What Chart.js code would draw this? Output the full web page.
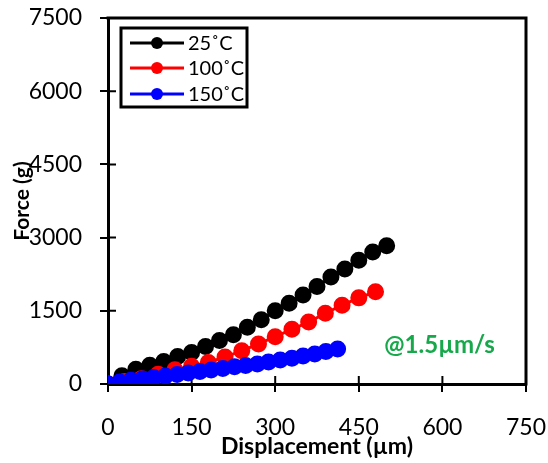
<!DOCTYPE html>
<html>
<head>
<meta charset="utf-8">
<script src="https://cdn.jsdelivr.net/npm/chart.js@4.4.0/dist/chart.umd.min.js"></script>
<style>
body { margin: 0; background: #fff; }
#wrap { width: 548px; height: 463px; }
</style>
</head>
<body>
<div id="wrap"><canvas id="chart" width="548" height="463"></canvas></div>
<script>
// axis ticks
const xTicks = [0, 150, 300, 450, 600, 750];
const yTicks = [0, 1500, 3000, 4500, 6000, 7500];

// 25 C
const x25 = [0, 25, 50, 75, 100, 125, 150, 175, 200, 225, 250, 275, 300, 325, 350, 375, 400, 425, 450, 475, 500];
const y25 = [0, 170, 300, 384, 459, 562, 644, 767, 890, 1007, 1164, 1315, 1500, 1657, 1822, 2000, 2192, 2357, 2534, 2706, 2835];
// 100 C
const x100 = [0, 30, 60, 90, 120, 150, 180, 210, 240, 270, 300, 330, 360, 390, 420, 450, 480];
const y100 = [0, 50, 110, 200, 290, 365, 440, 555, 680, 820, 970, 1120, 1270, 1450, 1615, 1765, 1890];
// 150 C
const x150 = [0, 21, 41, 62, 82, 103, 124, 144, 165, 185, 206, 227, 247, 268, 288, 309, 330, 350, 371, 391, 412];
const y150 = [0, 40, 75, 105, 135, 165, 195, 225, 255, 285, 320, 355, 380, 411, 450, 490, 527, 575, 616, 664, 719];

const seriesNames = ['25˚C', '100˚C', '150˚C'];
const seriesColors = ['#000000', '#ff0000', '#0000ff'];
const noteText = '@1.5µm/s';

Chart.defaults.font.family = 'Lato';
Chart.defaults.color = '#000';

function pts(xs, ys) {
    return xs.map((v, i) => ({x: v, y: ys[i]}));
}

const extras = {
    id: 'extras',
    beforeDatasetsDraw(chart) {
        const {ctx, chartArea: a, scales: {x, y}} = chart;
        ctx.save();
        ctx.strokeStyle = '#000';
        ctx.lineWidth = 3;
        ctx.beginPath();
        ctx.moveTo(a.left - 1.5, a.top);
        ctx.lineTo(a.right, a.top);
        ctx.lineTo(a.right, a.bottom + 1.5);
        ctx.stroke();
        // inner half of the crossing ticks
        ctx.lineWidth = 2;
        ctx.beginPath();
        xTicks.forEach(v => {
            const px = x.getPixelForValue(v);
            ctx.moveTo(px, a.bottom);
            ctx.lineTo(px, a.bottom - 8);
        });
        yTicks.forEach(v => {
            const py = y.getPixelForValue(v);
            ctx.moveTo(a.left, py);
            ctx.lineTo(a.left + 8, py);
        });
        ctx.stroke();
        ctx.restore();
    },
    afterDraw(chart) {
        const {ctx, scales: {x, y}} = chart;
        ctx.save();
        // legend box
        ctx.fillStyle = '#fff';
        ctx.fillRect(121, 28, 126, 79);
        ctx.strokeStyle = '#000';
        ctx.lineWidth = 3;
        ctx.strokeRect(121, 28, 126, 79);
        const rows = [43, 68, 94];
        seriesNames.forEach((name, i) => {
            ctx.strokeStyle = seriesColors[i];
            ctx.fillStyle = seriesColors[i];
            ctx.lineWidth = 3;
            ctx.beginPath();
            ctx.moveTo(130, rows[i]);
            ctx.lineTo(184, rows[i]);
            ctx.stroke();
            ctx.beginPath();
            ctx.arc(157, rows[i], 6, 0, Math.PI * 2);
            ctx.fill();
            ctx.fillStyle = '#000';
            ctx.font = '20px Lato';
            ctx.textAlign = 'left';
            ctx.textBaseline = 'middle';
            ctx.fillText(name, 188, rows[i] + 1);
        });
        // rate note
        ctx.fillStyle = '#16a84a';
        ctx.font = 'bold 24px Lato';
        ctx.textAlign = 'center';
        ctx.textBaseline = 'middle';
        ctx.fillText(noteText, x.getPixelForValue(595), y.getPixelForValue(800));
        ctx.restore();
    }
};

function ds(xs, ys, i, order) {
    return {
        label: seriesNames[i],
        data: pts(xs, ys),
        borderColor: seriesColors[i],
        backgroundColor: seriesColors[i],
        borderWidth: 3,
        pointRadius: 7,
        pointHoverRadius: 7,
        showLine: true,
        tension: 0,
        order: order
    };
}

new Chart(document.getElementById('chart'), {
    type: 'scatter',
    data: {
        datasets: [
            ds(x25, y25, 0, 3),
            ds(x100, y100, 1, 2),
            ds(x150, y150, 2, 1)
        ]
    },
    options: {
        responsive: false,
        animation: false,
        layout: {padding: {top: 18, right: 22, left: 0, bottom: 0}},
        plugins: {legend: {display: false}, tooltip: {enabled: false}},
        scales: {
            x: {
                type: 'linear',
                min: 0,
                max: 750,
                afterBuildTicks: s => { s.ticks = xTicks.map(v => ({value: v})); },
                afterFit: s => { s.height = 79; s.paddingLeft = 0; s.paddingRight = 0; },
                border: {display: true, color: '#000', width: 3},
                grid: {drawOnChartArea: false, drawTicks: true, tickLength: 8, color: '#000', lineWidth: 2},
                ticks: {font: {size: 23}, padding: 22, color: '#000', maxRotation: 0, callback: v => String(v)},
                title: {display: true, text: 'Displacement (µm)', font: {size: 23, weight: 'bold'}, padding: 3, color: '#000'}
            },
            y: {
                type: 'linear',
                min: 0,
                max: 7500,
                afterBuildTicks: s => { s.ticks = yTicks.map(v => ({value: v})); },
                afterFit: s => { s.width = 108; s.paddingTop = 0; s.paddingBottom = 0; },
                border: {display: true, color: '#000', width: 3},
                grid: {drawOnChartArea: false, drawTicks: true, tickLength: 8, color: '#000', lineWidth: 2},
                ticks: {font: {size: 23}, padding: 18, color: '#000', callback: v => String(v)},
                title: {display: true, text: 'Force (g)', font: {size: 21, weight: 'bold'}, padding: 10, color: '#000'}
            }
        }
    },
    plugins: [extras]
});
</script>
</body>
</html>
